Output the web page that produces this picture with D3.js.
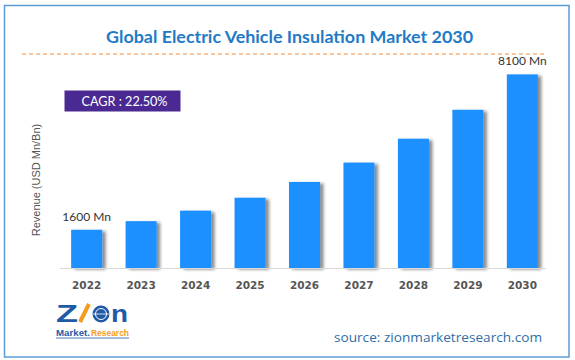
<!DOCTYPE html>
<html><head><meta charset="utf-8">
<script src="https://cdn.jsdelivr.net/npm/d3@7"></script>
<style>body{margin:0;background:#fff}svg{display:block}</style>
</head><body>
<svg id="c" width="575" height="360"></svg>
<script>
const years = ["2022","2023","2024","2025","2026","2027","2028","2029","2030"];
const revenue = [1600, 1960, 2400, 2940, 3600, 4410, 5410, 6620, 8100];
const valueLabels = {"2022":"1600 Mn","2030":"8100 Mn"};
const titleText = "Global Electric Vehicle Insulation Market 2030";
const cagrText = "CAGR : 22.50%";
const yAxisTitle = "Revenue (USD Mn/Bn)";
const sourceText = "source: zionmarketresearch.com";

const svg = d3.select("#c");
const defs = svg.append("defs");
const f = defs.append("filter").attr("id","sh").attr("x","-20%").attr("y","-10%").attr("width","160%").attr("height","130%");
f.append("feDropShadow").attr("dx",3.5).attr("dy",1.5).attr("stdDeviation",1.8).attr("flood-color","#000").attr("flood-opacity",0.45);

// outer border
svg.append("rect").attr("x",4.5).attr("y",5.5).attr("width",564.5).attr("height",351.5)
  .attr("fill","#fff").attr("stroke","#5b9bd5").attr("stroke-width",1.5);

// title
svg.append("text").attr("x",289.5).attr("y",43).attr("text-anchor","middle")
  .attr("font-family","Lato, 'Open Sans', sans-serif").attr("font-weight","bold").attr("font-size",17.5)
  .attr("fill","#1f7bc6").attr("textLength",367).attr("lengthAdjust","spacingAndGlyphs").text(titleText);

// dashed line
svg.append("line").attr("x1",22).attr("x2",545).attr("y1",54).attr("y2",54)
  .attr("stroke","#f08a3c").attr("stroke-width",1).attr("stroke-dasharray","4,3");

// CAGR box
svg.append("rect").attr("x",64.5).attr("y",90.5).attr("width",116).attr("height",21).attr("fill","#4a2a92");
svg.append("text").attr("x",124.5).attr("y",105.5).attr("text-anchor","middle")
  .attr("font-family","Lato, sans-serif").attr("font-size",13).attr("fill","#fff")
  .attr("textLength",86).attr("lengthAdjust","spacingAndGlyphs").text(cagrText);

const x = d3.scaleBand().domain(years).range([61.5,547.5]).paddingInner(0.43).paddingOuter(0.177);
const y = d3.scaleLinear().domain([0,8100]).range([268,74.4]);

// bars
svg.append("g").selectAll("rect").data(years).join("rect")
  .attr("x",d=>x(d)).attr("width",x.bandwidth())
  .attr("y",(d,i)=>y(revenue[i])).attr("height",(d,i)=>y(0)-y(revenue[i]))
  .attr("fill","#1e90ff").attr("filter","url(#sh)");

// baseline
svg.append("line").attr("x1",60).attr("x2",546).attr("y1",268.5).attr("y2",268.5)
  .attr("stroke","#d9d9d9").attr("stroke-width",1.2);

// x axis
const ax = svg.append("g").attr("transform","translate(0,268)")
  .call(d3.axisBottom(x).tickSize(0).tickPadding(0));
ax.select(".domain").remove();
ax.selectAll("text").attr("dy",0).attr("y",21)
  .attr("font-family","'DejaVu Sans', sans-serif").attr("font-weight","bold").attr("font-size",10.5).attr("fill","#555");

// value labels
svg.append("g").selectAll("text").data(years.filter(d=>valueLabels[d])).join("text")
  .attr("x",d=>x(d)+x.bandwidth()/2).attr("y",d=>y(revenue[years.indexOf(d)])-9)
  .attr("text-anchor","middle").attr("font-family","Lato, 'Open Sans', sans-serif").attr("font-size",12)
  .attr("fill","#333").text(d=>valueLabels[d]);

// y axis title
svg.append("text").attr("transform","translate(40,180) rotate(-90)").attr("text-anchor","middle")
  .attr("font-family","'Liberation Sans', Arial, sans-serif").attr("font-size",11).attr("fill","#555").text(yAxisTitle);

// source
svg.append("text").attr("x",542).attr("y",342).attr("text-anchor","end")
  .attr("font-family","'Open Sans', sans-serif").attr("font-size",13).attr("fill","#2f6ea6")
  .attr("textLength",208).attr("lengthAdjust","spacingAndGlyphs").text(sourceText);

// logo
const lg = svg.append("g");
lg.append("text").attr("x",56).attr("y",322).attr("font-family","'Liberation Sans', sans-serif").attr("font-weight","bold")
  .attr("font-size",23).attr("fill","#1f5aa6").attr("textLength",22).attr("lengthAdjust","spacingAndGlyphs").text("Z");
lg.append("line").attr("x1",80).attr("y1",322).attr("x2",89).attr("y2",304).attr("stroke","#f39c1f").attr("stroke-width",4);
lg.append("circle").attr("cx",101).attr("cy",314).attr("r",8.5).attr("fill","#1f5aa6");
lg.append("circle").attr("cx",101).attr("cy",314).attr("r",5.5).attr("fill","none").attr("stroke","#fff").attr("stroke-width",1);
lg.append("line").attr("x1",92.5).attr("x2",109.5).attr("y1",314).attr("y2",314).attr("stroke","#fff").attr("stroke-width",0.8);
lg.append("text").attr("x",111).attr("y",322).attr("font-family","'Liberation Sans', sans-serif").attr("font-weight","bold")
  .attr("font-size",23).attr("fill","#1f5aa6").attr("textLength",17).attr("lengthAdjust","spacingAndGlyphs").text("n");
lg.append("text").attr("x",56).attr("y",336).attr("font-family","'Liberation Sans', sans-serif").attr("font-weight","bold")
  .attr("font-size",9).attr("fill","#1f5aa6").attr("textLength",34).attr("lengthAdjust","spacingAndGlyphs").text("Market.");
lg.append("text").attr("x",91).attr("y",336).attr("font-family","'Liberation Sans', sans-serif").attr("font-weight","bold")
  .attr("font-size",9).attr("fill","#f39c1f").attr("textLength",38).attr("lengthAdjust","spacingAndGlyphs").text("Research");
lg.append("line").attr("x1",56).attr("x2",129).attr("y1",338).attr("y2",338).attr("stroke","#1f5aa6").attr("stroke-width",0.8);
</script>
</body></html>
